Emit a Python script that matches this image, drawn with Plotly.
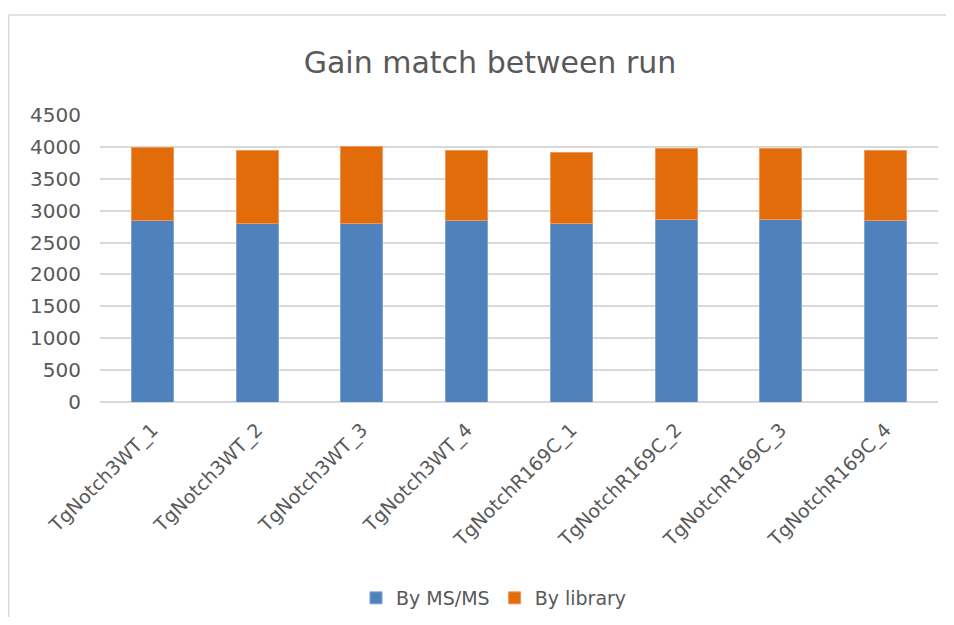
import plotly.graph_objects as go

categories = ["TgNotch3WT_1", "TgNotch3WT_2", "TgNotch3WT_3", "TgNotch3WT_4",
              "TgNotchR169C_1", "TgNotchR169C_2", "TgNotchR169C_3", "TgNotchR169C_4"]
by_msms = [2847, 2806, 2806, 2847, 2806, 2869, 2869, 2847]
by_library = [1145, 1145, 1208, 1104, 1108, 1103, 1103, 1104]
y_ticks = [0, 500, 1000, 1500, 2000, 2500, 3000, 3500, 4000, 4500]

FONT = "DejaVu Sans, sans-serif"
GRAY = "#595959"
# page has an 8px body margin; keep the figure inside the window
W, H = 938, 609
L, R, T, B = 92, 8, 107, 215
pw, ph = W - L - R, H - T - B

fig = go.Figure()
fig.add_trace(go.Bar(x=categories, y=by_msms, name="By MS/MS",
                     marker=dict(color="#4f81bd", line=dict(color="#7fa3d1", width=1))))
fig.add_trace(go.Bar(x=categories, y=by_library, name="By library",
                     marker=dict(color="#e36c0a", line=dict(color="#f0965a", width=1))))

def px_x(x):
    return (x - L) / pw

def px_y(y):
    return (H - B - y) / ph

fig.update_layout(
    width=W, height=H,
    barmode="stack", bargap=0.6,
    plot_bgcolor="white", paper_bgcolor="white",
    margin=dict(l=L, r=R, t=T, b=B, autoexpand=False),
    font=dict(family=FONT, color=GRAY, size=19),
    title=dict(text="Gain match between run", x=482 / W, xanchor="center",
               y=1 - 54 / H, yanchor="middle",
               font=dict(family=FONT, size=30, color=GRAY)),
    showlegend=True,
    legend=dict(orientation="h", xref="container", x=486 / W, xanchor="center",
                yref="container", y=1 - 590 / H, yanchor="middle",
                font=dict(family=FONT, size=19, color=GRAY),
                itemwidth=30, traceorder="normal"),
    xaxis=dict(tickangle=-45, showgrid=False, showline=False, ticks="",
               ticklabelstandoff=12, automargin=False,
               tickfont=dict(family=FONT, size=19, color=GRAY)),
    yaxis=dict(range=[0, 4500], tickvals=y_ticks, showgrid=True,
               gridcolor="#d9d9d9", gridwidth=1.5, zeroline=True,
               zerolinecolor="#d9d9d9", zerolinewidth=1.5, showline=False,
               ticks="", ticklabelstandoff=18, automargin=False,
               tickfont=dict(family=FONT, size=20, color=GRAY)),
    shapes=[
        dict(type="line", xref="paper", yref="paper",
             x0=px_x(0.75), x1=px_x(W), y0=px_y(7), y1=px_y(7),
             line=dict(color="#d9d9d9", width=1.5), layer="below"),
        dict(type="line", xref="paper", yref="paper",
             x0=px_x(0.75), x1=px_x(0.75), y0=px_y(7), y1=px_y(H),
             line=dict(color="#d9d9d9", width=1.5), layer="below"),
    ],
)

fig.write_html("out.html")
